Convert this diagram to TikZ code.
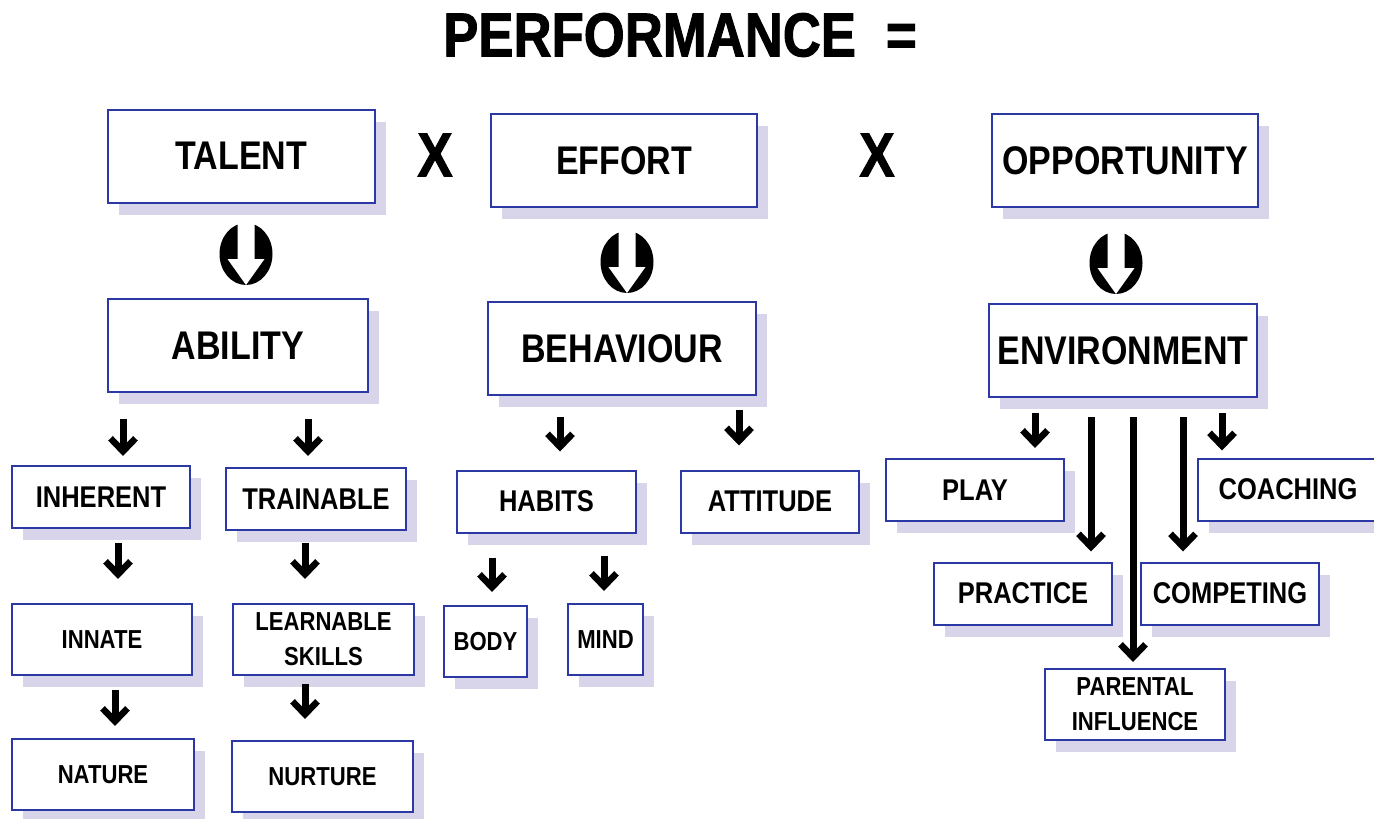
\documentclass[tikz,border=0pt]{standalone}
\usepackage{fontspec}
\newfontfamily\lab[FakeStretch=0.85]{Liberation Sans Bold}
\newfontfamily\ttlf[FakeStretch=0.85,FakeBold=1.5]{Liberation Sans Bold}
\usetikzlibrary{arrows.meta,shadows,shapes.geometric}
\definecolor{bordc}{RGB}{44,56,164}
\definecolor{shadc}{RGB}{216,212,234}
\newcommand\ovalarrow[1]{%
  \fill[white] ([shift={(-8.5,33)}]#1.center) -- ([shift={(-8.5,-5)}]#1.center)
    -- ([shift={(-18.5,-5)}]#1.center) -- ([shift={(0,-31)}]#1.center)
    -- ([shift={(18.5,-5)}]#1.center) -- ([shift={(8.5,-5)}]#1.center)
    -- ([shift={(8.5,33)}]#1.center) -- cycle;}
\begin{document}
\begin{tikzpicture}[x=1pt,y=1pt,
  box/.style={draw=bordc, line width=2pt, fill=white, inner sep=0pt, align=center,
    drop shadow={shadow xshift=11pt, shadow yshift=-12pt, fill=shadc, opacity=1}},
  big/.style={box, minimum height=93pt, font=\lab\fontsize{40}{44}\selectfont},
  mid/.style={box, minimum height=62pt, font=\lab\fontsize{30}{34}\selectfont},
  sml/.style={box, minimum height=71pt, font=\lab\fontsize{26}{35}\selectfont},
  arr/.style={line width=7pt, -{Straight Barb[length=13pt,width=25pt,line width=6.5pt]}},
  oval/.style={ellipse, fill=black, minimum width=53pt, minimum height=62pt, inner sep=0pt},
  ttl/.style={font=\ttlf\fontsize{62}{66}\selectfont, inner sep=0pt}]
\useasboundingbox (0,0) rectangle (1374,-819);
\fill[white] (0,0) rectangle (1374,-819);

% title and operators
\node[ttl] (title) at (680,-35) {PERFORMANCE\hspace{30pt}=};
\node[ttl] (x1) at (435,-155) {X};
\node[ttl] (x2) at (877,-155) {X};

% top level
\node[big, minimum width=267pt] (talent) at (241.5,-156) {TALENT};
\node[big, minimum width=266pt] (effort) at (624,-160.5) {EFFORT};
\node[big, minimum width=266pt] (opp) at (1125,-160.5) {OPPORTUNITY};

% oval arrows
\node[oval] (o1) at (246,-254) {};
\node[oval] (o2) at (627,-262) {};
\node[oval] (o3) at (1116,-263) {};
\ovalarrow{o1}
\ovalarrow{o2}
\ovalarrow{o3}

% second level
\node[big, minimum width=260pt] (abil) at (238,-345.5) {ABILITY};
\node[big, minimum width=268pt] (behav) at (622,-348.5) {BEHAVIOUR};
\node[big, minimum width=268pt] (env) at (1123,-350.5) {ENVIRONMENT};

% third level
\node[mid, minimum width=178pt] (inh) at (101,-497) {INHERENT};
\node[mid, minimum width=180pt] (train) at (316,-499) {TRAINABLE};
\node[mid, minimum width=179pt] (habits) at (546.5,-501.5) {HABITS};
\node[mid, minimum width=178pt] (att) at (770,-501.5) {ATTITUDE};
\node[mid, minimum width=178pt] (play) at (975,-490) {PLAY};
\node[mid, minimum width=180pt] (coach) at (1288,-489.5) {COACHING};
\node[mid, minimum width=178pt] (prac) at (1023,-593.5) {PRACTICE};
\node[mid, minimum width=178pt] (comp) at (1230,-593.5) {COMPETING};

% fourth level
\node[sml, minimum width=180pt] (innate) at (102,-639.5) {INNATE};
\node[sml, minimum width=181pt] (learn) at (323.5,-639.5) {LEARNABLE\\SKILLS};
\node[sml, minimum width=182pt] (nature) at (103,-774.5) {NATURE};
\node[sml, minimum width=181pt] (nurture) at (322.5,-776.5) {NURTURE};
\node[sml, minimum width=83pt] (body) at (485.5,-641.5) {BODY};
\node[sml, minimum width=75pt] (mind) at (605.5,-639.5) {MIND};
\node[sml, minimum width=180pt] (parent) at (1135,-704.5) {PARENTAL\\INFLUENCE};

% connectors
\draw[arr] ([xshift=-115pt,yshift=-26pt]abil.south) -- ([xshift=22pt,yshift=9pt]inh.north);
\draw[arr] ([xshift=70pt,yshift=-26pt]abil.south) -- ([xshift=-8pt,yshift=11pt]train.north);
\draw[arr] ([xshift=17pt,yshift=-14pt]inh.south) -- ([xshift=16pt,yshift=24pt]innate.north);
\draw[arr] ([xshift=-11pt,yshift=-12pt]train.south) -- ([xshift=-18.5pt,yshift=24pt]learn.north);
\draw[arr] ([xshift=13pt,yshift=-14pt]innate.south) -- ([xshift=12pt,yshift=12pt]nature.north);
\draw[arr] ([xshift=-18.5pt,yshift=-8pt]learn.south) -- ([xshift=-17.5pt,yshift=21pt]nurture.north);
\draw[arr] ([xshift=-62pt,yshift=-21pt]behav.south) -- ([xshift=13.5pt,yshift=18pt]habits.north);
\draw[arr] ([xshift=117pt,yshift=-14pt]behav.south) -- ([xshift=-31pt,yshift=24pt]att.north);
\draw[arr] ([xshift=-54.5pt,yshift=-24pt]habits.south) -- ([xshift=6.5pt,yshift=13pt]body.north);
\draw[arr] ([xshift=57.5pt,yshift=-22pt]habits.south) -- ([xshift=-1.5pt,yshift=12pt]mind.north);
\draw[arr] ([xshift=-88pt,yshift=-15pt]env.south) -- ([xshift=60pt,yshift=10pt]play.north);
\draw[arr] ([xshift=99pt,yshift=-15pt]env.south) -- ([xshift=-66pt,yshift=7pt]coach.north);
\draw[arr] ([xshift=-32pt,yshift=-19pt]env.south) -- ([xshift=68pt,yshift=10pt]prac.north);
\draw[arr] ([xshift=10pt,yshift=-19pt]env.south) -- ([xshift=-2pt,yshift=6pt]parent.north);
\draw[arr] ([xshift=60pt,yshift=-19pt]env.south) -- ([xshift=-47pt,yshift=10pt]comp.north);
\end{tikzpicture}
\end{document}
